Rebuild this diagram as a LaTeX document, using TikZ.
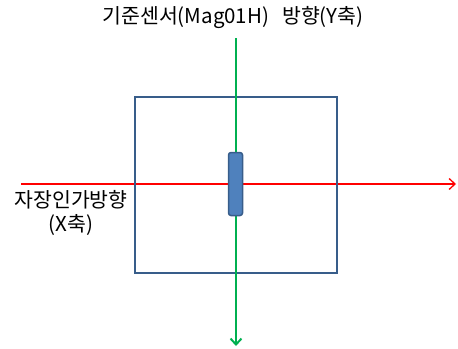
\documentclass[tikz,border=0pt]{standalone}
\usepackage{fontspec}
\setmainfont{Noto Sans CJK KR}
\usetikzlibrary{arrows.meta}
\definecolor{boxblue}{HTML}{385D8A}
\definecolor{sensfill}{HTML}{4F81BD}
\definecolor{axgreen}{HTML}{00B050}
\definecolor{axred}{HTML}{FF0000}
\begin{document}
\begin{tikzpicture}[x=1bp,y=-1bp,
  lbl/.style={font=\fontsize{20.5bp}{24bp}\selectfont, inner sep=0pt, align=center},
  frame/.style={draw=boxblue, line width=1.8bp, minimum width=202bp, minimum height=176bp, inner sep=0pt},
  sensor/.style={draw=boxblue, fill=sensfill, line width=1.5bp, rounded corners=2.5bp, minimum width=14bp, minimum height=63bp, inner sep=0pt},
  redax/.style={draw=axred, line width=1.3bp, -{Straight Barb[length=6bp,width=11bp,line width=1.3bp]}},
  greenax/.style={draw=axgreen, line width=2bp, -{Straight Barb[length=6bp,width=11bp,line width=2bp]}}]
\useasboundingbox (0,0) rectangle (458,348);
\coordinate (xs) at (21,184);
\coordinate (xe) at (456,184);
\coordinate (ys) at (236,38);
\coordinate (ye) at (236,346);
\draw[redax] (xs) -- (xe);
\node[frame] (box) at (236,185) {};
\draw[greenax] (ys) -- (ye);
\node[sensor] (sens) at (235.5,184) {};
\node[lbl] (ttl) at (233,18) {기준센서(Mag01H)\hspace{13bp}방향(Y축)};
\node[lbl] (xl) at (71,213) {자장인가방향\\(X축)};
\end{tikzpicture}
\end{document}
